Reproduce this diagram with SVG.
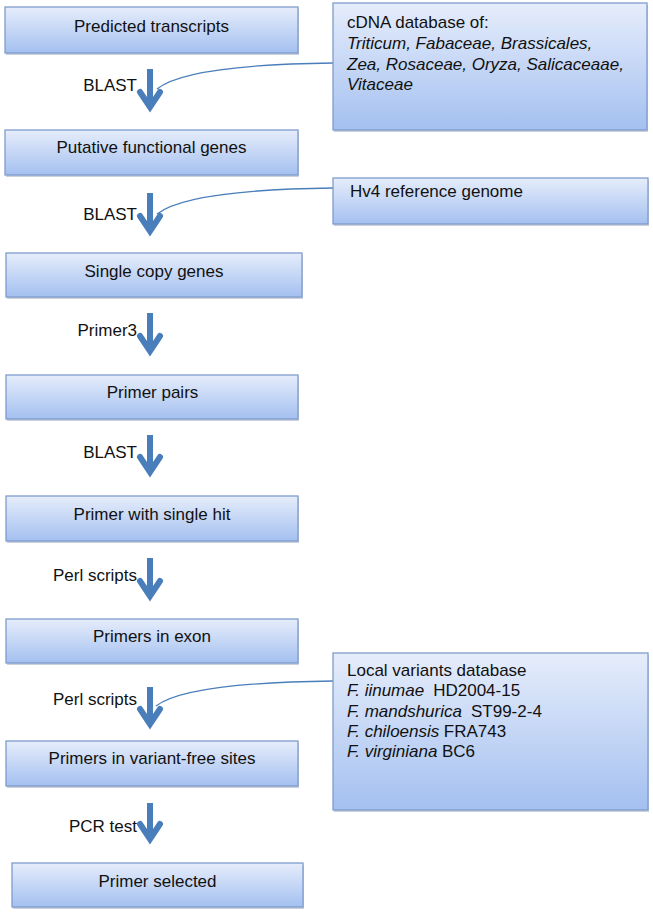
<svg xmlns="http://www.w3.org/2000/svg" width="653" height="916" viewBox="0 0 653 916">
<defs>
<linearGradient id="g" x1="0" y1="0" x2="0" y2="1">
<stop offset="0" stop-color="#e6edfb"/>
<stop offset="1" stop-color="#a4c0f0"/>
</linearGradient>
<style>
.box{fill:url(#g);stroke:#7f9ccc;stroke-width:1.3}
.sh{fill:#6d7e99;opacity:0.35}
.t{font-family:"Liberation Sans",Arial,sans-serif;font-size:17px;fill:#111}
.c{text-anchor:middle}
.e{text-anchor:end}
.i{font-style:italic}
.shaft{stroke:#4a7ebb;stroke-width:6;fill:none}
.head{stroke:#4a7ebb;stroke-width:6;fill:none;stroke-linejoin:miter;stroke-linecap:round}
.link{stroke:#4a7ebb;stroke-width:1.3;fill:none}
</style>
</defs>

<g id="connectors">
<path class="link" d="M333,63 C250,64 180,70 157,89"/>
<path class="link" d="M333,188 C250,189 180,196 157,214"/>
<path class="link" d="M333,681 C250,682 180,688 156,706"/>
<g id="a1"><line class="shaft" x1="150" y1="69" x2="150" y2="105"/><polyline class="head" points="140,92 150,107 160,92"/></g>
<g id="a2"><line class="shaft" x1="150" y1="193" x2="150" y2="229"/><polyline class="head" points="140,216 150,231 160,216"/></g>
<g id="a3"><line class="shaft" x1="150" y1="313" x2="150" y2="349"/><polyline class="head" points="140,336 150,351 160,336"/></g>
<g id="a4"><line class="shaft" x1="150" y1="435" x2="150" y2="470"/><polyline class="head" points="140,457 150,472 160,457"/></g>
<g id="a5"><line class="shaft" x1="150" y1="558" x2="150" y2="594"/><polyline class="head" points="140,581 150,596 160,581"/></g>
<g id="a6"><line class="shaft" x1="150" y1="687" x2="150" y2="722"/><polyline class="head" points="140,709 150,724 160,709"/></g>
<g id="a7"><line class="shaft" x1="150" y1="803" x2="150" y2="837"/><polyline class="head" points="140,824 150,839 160,824"/></g>
<text class="t e" x="137" y="91">BLAST</text>
<text class="t e" x="137" y="220">BLAST</text>
<text class="t e" x="137" y="336">Primer3</text>
<text class="t e" x="137" y="458">BLAST</text>
<text class="t e" x="137" y="581">Perl scripts</text>
<text class="t e" x="137" y="705">Perl scripts</text>
<text class="t e" x="137" y="832">PCR test</text>
</g>

<g id="n1"><rect class="sh" x="6" y="9" width="293" height="46"/><rect class="box" x="5" y="7" width="293" height="46"/><text class="t c" x="151.5" y="32">Predicted transcripts</text></g>
<g id="n2"><rect class="sh" x="6" y="132" width="293" height="45"/><rect class="box" x="5" y="130" width="293" height="45"/><text class="t c" x="151.5" y="153">Putative functional genes</text></g>
<g id="n3"><rect class="sh" x="7" y="255" width="296" height="44"/><rect class="box" x="6" y="253" width="296" height="44"/><text class="t c" x="154" y="277">Single copy genes</text></g>
<g id="n4"><rect class="sh" x="7" y="377" width="292" height="44"/><rect class="box" x="6" y="375" width="292" height="44"/><text class="t c" x="152.5" y="398">Primer pairs</text></g>
<g id="n5"><rect class="sh" x="7" y="498" width="292" height="45"/><rect class="box" x="6" y="496" width="292" height="45"/><text class="t c" x="152" y="520">Primer with single hit</text></g>
<g id="n6"><rect class="sh" x="7" y="621" width="292" height="44"/><rect class="box" x="6" y="619" width="292" height="44"/><text class="t c" x="152" y="642">Primers in exon</text></g>
<g id="n7"><rect class="sh" x="7" y="743" width="292" height="45"/><rect class="box" x="6" y="741" width="292" height="45"/><text class="t c" x="152" y="764">Primers in variant-free sites</text></g>
<g id="n8"><rect class="sh" x="13" y="865" width="291" height="44"/><rect class="box" x="12" y="863" width="291" height="44"/><text class="t c" x="157.5" y="887">Primer selected</text></g>

<g id="r1"><rect class="sh" x="334" y="5" width="314" height="127"/><rect class="box" x="333" y="3" width="314" height="127"/>
<text class="t" x="347" y="28">cDNA database of:</text>
<text class="t i" x="347" y="49">Triticum, Fabaceae, Brassicales,</text>
<text class="t i" x="347" y="70">Zea, Rosaceae, Oryza, Salicaceaae,</text>
<text class="t i" x="347" y="90">Vitaceae</text>
</g>
<g id="r2"><rect class="sh" x="334" y="180" width="315" height="46"/><rect class="box" x="333" y="178" width="315" height="46"/>
<text class="t" x="350" y="197">Hv4 reference genome</text>
</g>
<g id="r3"><rect class="sh" x="334" y="655" width="315" height="157"/><rect class="box" x="333" y="653" width="315" height="157"/>
<text class="t" x="347" y="676">Local variants database</text>
<text class="t" x="347" y="696"><tspan class="i">F. iinumae</tspan><tspan dx="9">HD2004-15</tspan></text>
<text class="t" x="347" y="717"><tspan class="i">F. mandshurica</tspan><tspan dx="9">ST99-2-4</tspan></text>
<text class="t" x="347" y="737"><tspan class="i">F. chiloensis</tspan><tspan dx="4.5">FRA743</tspan></text>
<text class="t" x="347" y="757"><tspan class="i">F. virginiana</tspan><tspan dx="4.5">BC6</tspan></text>
</g>
</svg>
